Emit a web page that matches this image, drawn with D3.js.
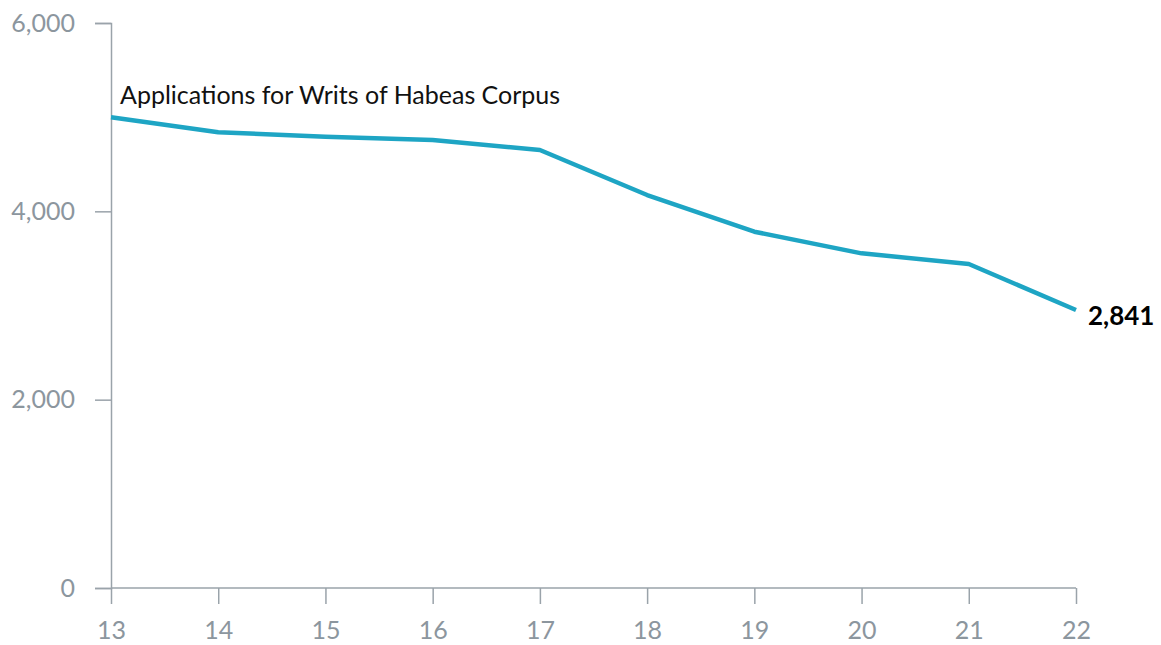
<!DOCTYPE html>
<html><head><meta charset="utf-8">
<script src="https://cdn.jsdelivr.net/npm/d3@7"></script>
<style>body{margin:0;background:#fff}svg{display:block}</style>
</head><body>
<script>
const years = ["13","14","15","16","17","18","19","20","21","22"];
const applications = [5000, 4840, 4793, 4758, 4651, 4173, 3784, 3554, 3441, 2952];
const yTicks = [0, 2000, 4000, 6000];
const seriesLabel = "Applications for Writs of Habeas Corpus";
const endLabel = "2,841";

const W = 1161, H = 645;
const m = {left: 111, right: 85, top: 23, bottom: 57};
const svg = d3.select("body").append("svg").attr("width", W).attr("height", H);
const x = d3.scalePoint().domain(years).range([m.left, W - m.right]);
const y = d3.scaleLinear().domain([0, 6000]).range([H - m.bottom, m.top]);
const font = "Lato, 'Open Sans', sans-serif";
const grey = "#9aa3aa";
const labelGrey = "#8c969e";

const yAxis = svg.append("g").attr("transform", `translate(${m.left},0)`)
  .call(d3.axisLeft(y).tickValues(yTicks).tickFormat(d3.format(",")).tickSize(16).tickPadding(20));
const xAxis = svg.append("g").attr("transform", `translate(0,${y(0)})`)
  .call(d3.axisBottom(x).tickSize(16).tickPadding(17));
[yAxis, xAxis].forEach(g => {
  g.select(".domain").attr("stroke", grey).attr("stroke-width", 1.5);
  g.selectAll(".tick line").attr("stroke", grey).attr("stroke-width", 1.5);
  g.selectAll(".tick text").attr("fill", labelGrey).style("font-family", font)
    .style("font-size", "25px").style("font-weight", 400);
});
xAxis.select(".domain").attr("d", `M${m.left},0H${x("22")}`);

const line = d3.line().x((d, i) => x(years[i])).y(d => y(d));
svg.append("path").datum(applications).attr("d", line)
  .attr("fill", "none").attr("stroke", "#1ea5c4").attr("stroke-width", 4.5)
  .attr("stroke-linejoin", "round");

svg.append("text").attr("x", x("13") + 9).attr("y", y(applications[0]) - 13)
  .text(seriesLabel).style("font-family", font).style("font-size", "25px").attr("fill", "#111");
svg.append("text").attr("x", x("22") + 12).attr("y", y(applications[9]) + 15)
  .text(endLabel).style("font-family", font).style("font-size", "26px")
  .style("font-weight", 700).attr("fill", "#000");
</script>
</body></html>
